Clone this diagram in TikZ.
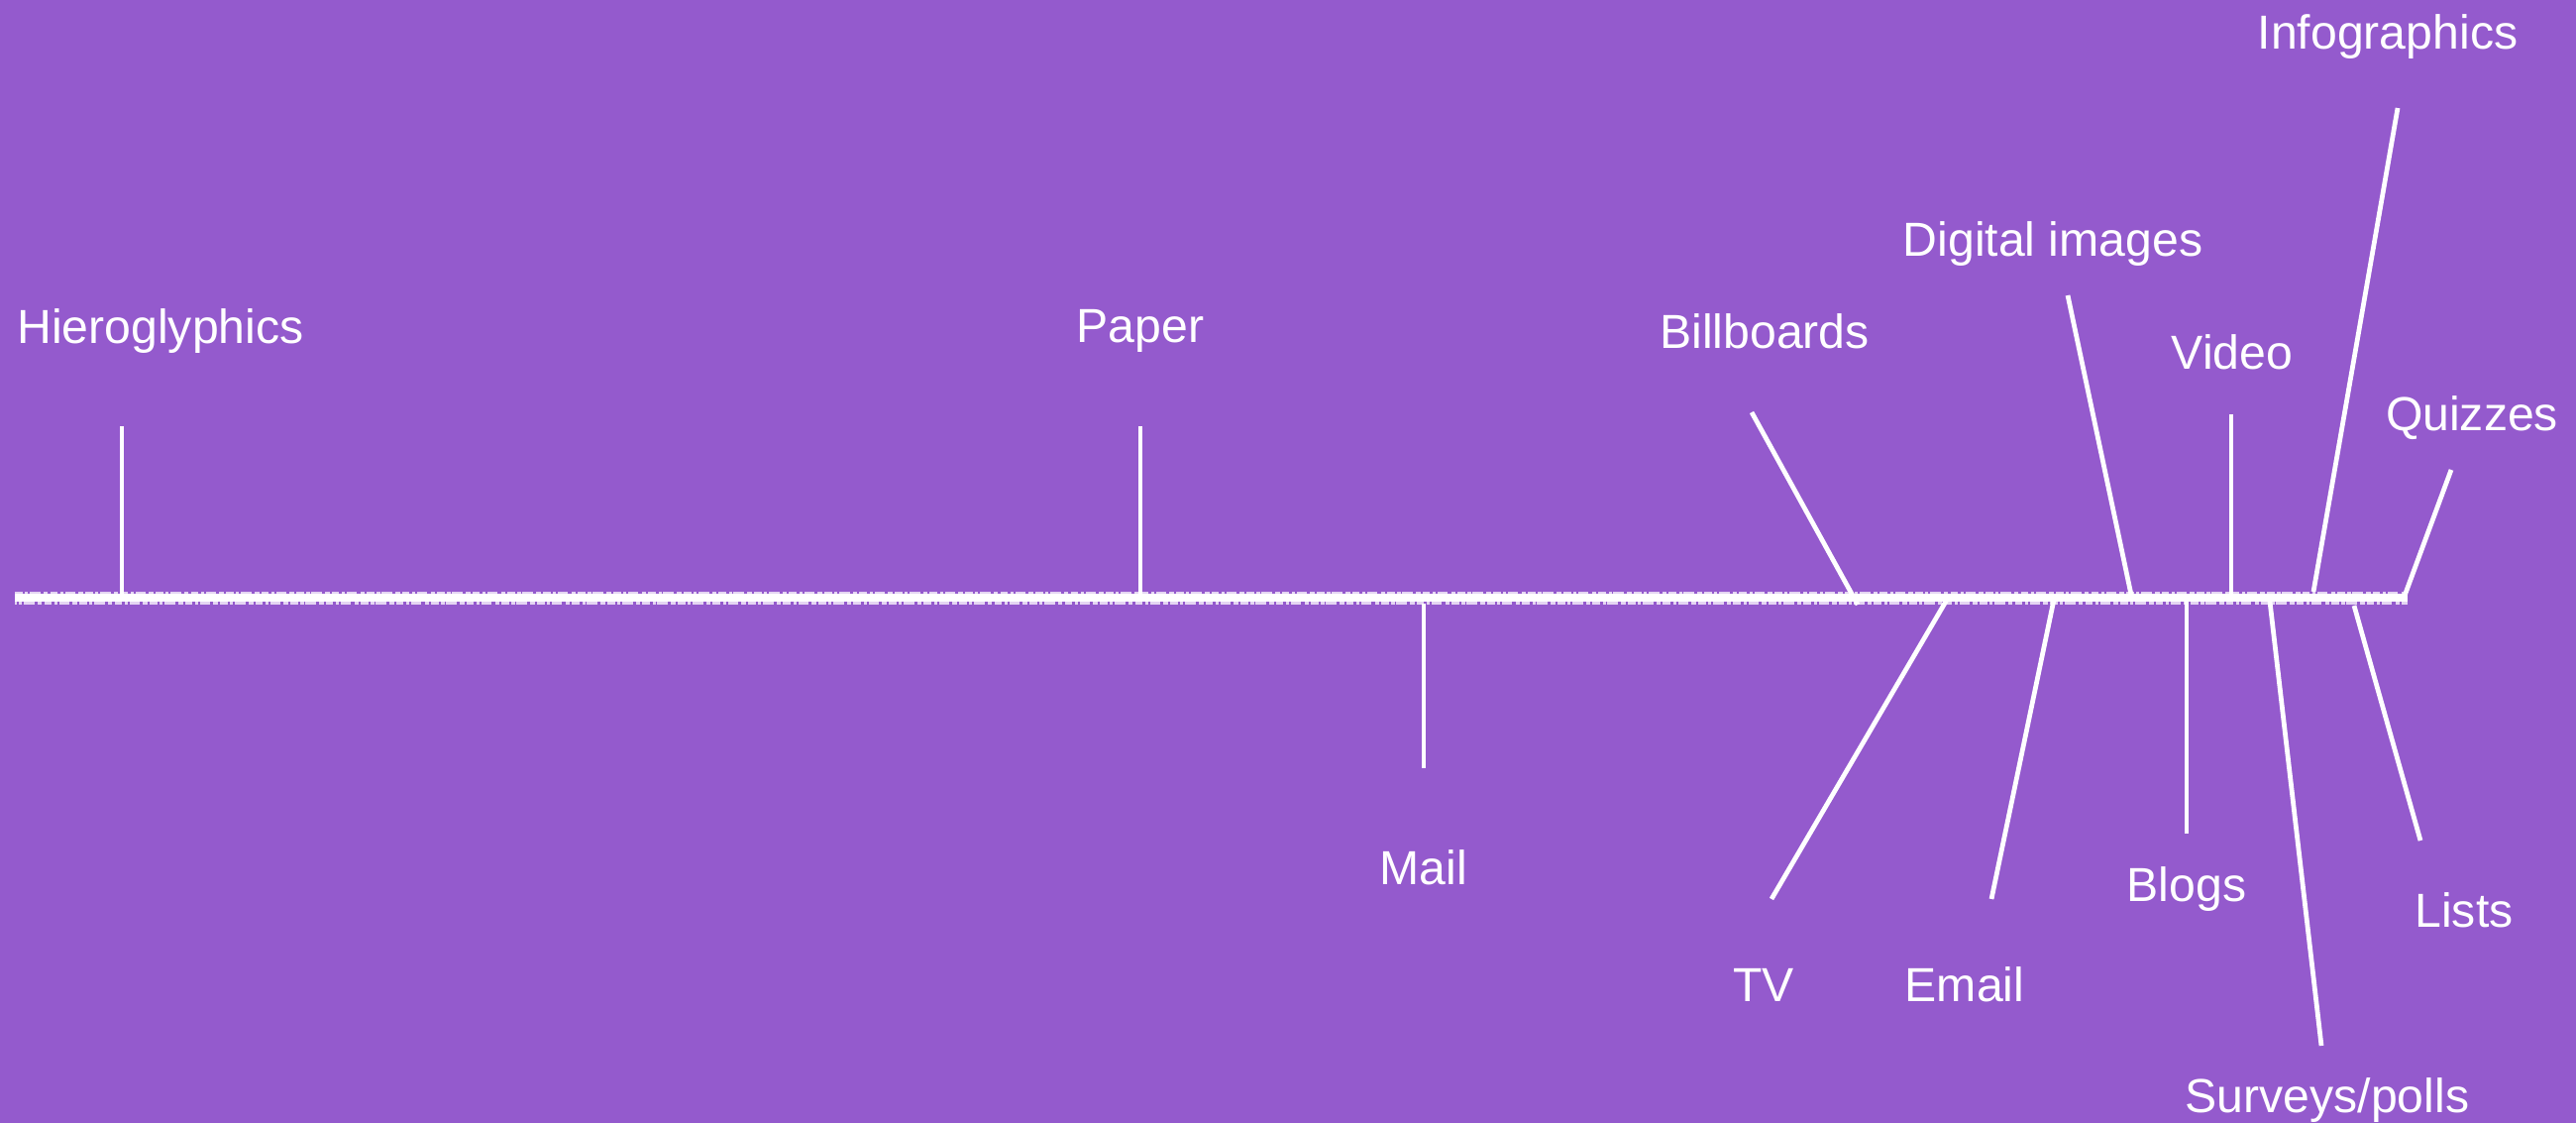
\documentclass[tikz,border=0pt]{standalone}
\usepackage{fontspec}
\setmainfont{Liberation Sans}
\usepackage{tikz}
\usepackage{xcolor}
\definecolor{mypurple}{RGB}{148,90,205}
\tikzstyle{mediumtext}=[text=white,font=\fontsize{13.7}{16}\selectfont,anchor=base,inner sep=0]
\tikzstyle{pointer}=[white,line width=1.35pt]
\tikzstyle{chalk}=[white,line width=0.9pt,opacity=0.75,dash pattern=on 2.2pt off 0.7pt on 0.9pt off 0.5pt on 3pt off 0.9pt on 1.3pt off 0.6pt]

\begin{document}
\begin{tikzpicture}[x=0.01cm,y=0.01cm]
\fill[mypurple] (0,0) rectangle (2600,1133);
\useasboundingbox (0,0) rectangle (2600,1133);

\coordinate (start) at (15,530);
\coordinate (end) at (2430,530);
\draw[white,line width=2.3pt] (start)--(end);
\draw[chalk] ([yshift=1.3pt]start)--([yshift=1.3pt]end);
\draw[chalk,dash phase=1.7pt] ([yshift=-1.4pt]start)--([yshift=-1.4pt]end);

\node[mediumtext] (hiero) at (162,786) {Hieroglyphics};
\coordinate (hieroa) at (123,530);
\coordinate (hierob) at (123,703);
\draw[pointer] (hieroa)--(hierob);

\node[mediumtext] (paper) at (1151,787) {Paper};
\coordinate (papera) at (1151,530);
\coordinate (paperb) at (1151,703);
\draw[pointer] (papera)--(paperb);

\node[mediumtext] (mail) at (1437,241) {Mail};
\coordinate (maila) at (1437,524);
\coordinate (mailb) at (1437,358);
\draw[pointer] (maila)--(mailb);

\node[mediumtext] (billboards) at (1781,781) {Billboards};
\coordinate (billa) at (1875,523);
\coordinate (billb) at (1768,717);
\draw[pointer] (billa)--(billb);

\node[mediumtext] (tv) at (1780,123) {TV};
\coordinate (tva) at (1965,528);
\coordinate (tvb) at (1788,226);
\draw[pointer] (tva)--(tvb);

\node[mediumtext] (email) at (1983,123) {Email};
\coordinate (emaila) at (2073,528);
\coordinate (emailb) at (2010,226);
\draw[pointer] (emaila)--(emailb);

\node[mediumtext] (digital) at (2072,874) {Digital images};
\coordinate (digitala) at (2151,533);
\coordinate (digitalb) at (2087,835);
\draw[pointer] (digitala)--(digitalb);

\node[mediumtext] (video) at (2253,760) {Video};
\coordinate (videoa) at (2252,533);
\coordinate (videob) at (2252,715);
\draw[pointer] (videoa)--(videob);

\node[mediumtext] (blogs) at (2207,224) {Blogs};
\coordinate (blogsa) at (2207,526);
\coordinate (blogsb) at (2207,292);
\draw[pointer] (blogsa)--(blogsb);

\node[mediumtext] (info) at (2410,1083) {Infographics};
\coordinate (infoa) at (2335,536);
\coordinate (infob) at (2420,1024);
\draw[pointer] (infoa)--(infob);

\node[mediumtext] (surveys) at (2349,11) {Surveys/polls};
\coordinate (surveysa) at (2291,526);
\coordinate (surveysb) at (2343,78);
\draw[pointer] (surveysa)--(surveysb);

\node[mediumtext] (quizzes) at (2495,698) {Quizzes};
\coordinate (quizzesa) at (2427,532);
\coordinate (quizzesb) at (2474,659);
\draw[pointer] (quizzesa)--(quizzesb);

\node[mediumtext] (lists) at (2487,198) {Lists};
\coordinate (listsa) at (2376,522);
\coordinate (listsb) at (2443,285);
\draw[pointer] (listsa)--(listsb);
\end{tikzpicture}
\end{document}
